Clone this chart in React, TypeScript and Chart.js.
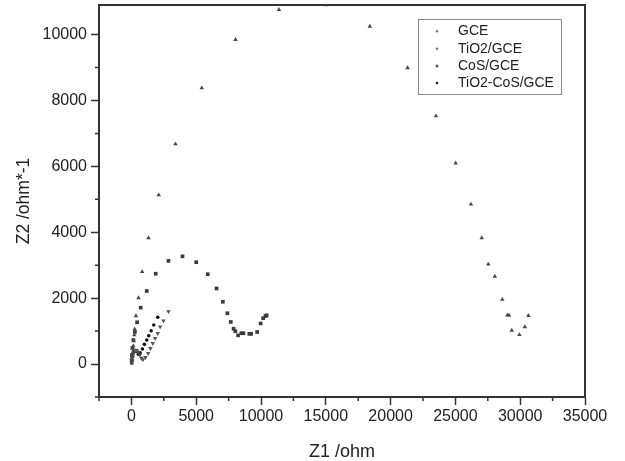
import React, { useEffect, useRef } from 'react';
import { Chart, registerables } from 'chart.js';

Chart.register(...registerables);

// ---------- data ----------
const seriesLabels = ['GCE', 'TiO2/GCE', 'CoS/GCE', 'TiO2-CoS/GCE'];

const gceZ1 = [20, 50, 100, 130, 150, 180, 220, 250, 350, 550, 830, 1320, 2110, 3400, 5430, 8040, 11380, 15000, 18400, 21310, 23500, 25020, 26200, 27030, 27540, 28040, 28620, 29010, 29140, 29350, 29940, 30360, 30630];
const gceZ2 = [30, 120, 243, 365, 550, 700, 880, 1060, 1460, 2010, 2800, 3830, 5130, 6680, 8380, 9850, 10760, 10900, 10250, 8990, 7530, 6100, 4850, 3830, 3030, 2660, 1960, 1480, 1480, 1020, 890, 1130, 1470];

const tio2Z1 = [30, 50, 110, 190, 310, 425, 540, 655, 775, 890, 1082, 1291, 1469, 1647, 1832, 2033, 2219, 2474, 2860];
const tio2Z2 = [60, 180, 270, 365, 425, 410, 365, 275, 180, 135, 204, 325, 477, 629, 781, 933, 1134, 1316, 1596];

const cosZ1 = [20, 40, 77, 155, 270, 441, 719, 1183, 1878, 2860, 3942, 5001, 5890, 6571, 7058, 7405, 7668, 7885, 8016, 8232, 8487, 8642, 9098, 9237, 9701, 9972, 10165, 10343, 10436];
const cosZ2 = [120, 270, 486, 730, 973, 1268, 1712, 2219, 2742, 3131, 3270, 3092, 2727, 2295, 1891, 1541, 1277, 1073, 997, 872, 936, 936, 918, 918, 973, 1231, 1392, 1459, 1480];

const tcZ1 = [30, 40, 77, 116, 170, 270, 386, 541, 672, 850, 1005, 1183, 1337, 1523, 1724, 2033];
const tcZ2 = [30, 120, 213, 304, 380, 410, 380, 295, 344, 456, 599, 730, 860, 1012, 1186, 1420];

const xMajorTicks = [0, 5000, 10000, 15000, 20000, 25000, 30000, 35000];
const xMinorTicks = [-2500, 2500, 7500, 12500, 17500, 22500, 27500, 32500];
const yMajorTicks = [0, 2000, 4000, 6000, 8000, 10000];
const yMinorTicks = [-1000, 1000, 3000, 5000, 7000, 9000];

const FONT = '"Liberation Sans", Arial, Helvetica, sans-serif';
const AXIS_COLOR = '#333333';

const zip = (xs: number[], ys: number[]) => xs.map((x, i) => ({ x, y: ys[i] }));

const frameAndLegend = {
  id: 'frameAndLegend',
  afterDraw(chart: any) {
    const { ctx, chartArea, scales } = chart;
    const { left, right, top, bottom } = chartArea;
    ctx.save();
    // frame
    ctx.strokeStyle = AXIS_COLOR;
    ctx.lineWidth = 2;
    ctx.strokeRect(left, top, right - left, bottom - top);
    // minor ticks
    ctx.lineWidth = 1.5;
    ctx.beginPath();
    for (const v of xMinorTicks) {
      const px = scales.x.getPixelForValue(v);
      ctx.moveTo(px, bottom);
      ctx.lineTo(px, bottom + 4);
    }
    for (const v of yMinorTicks) {
      const py = scales.y.getPixelForValue(v);
      ctx.moveTo(left, py);
      ctx.lineTo(left - 4, py);
    }
    ctx.stroke();

    // legend box
    const bx = 418, by = 19, bw = 143, bh = 75;
    ctx.lineWidth = 1;
    ctx.strokeStyle = '#8a8a8a';
    ctx.strokeRect(bx + 0.5, by + 0.5, bw, bh);
    ctx.font = '14px ' + FONT;
    ctx.textBaseline = 'middle';
    ctx.textAlign = 'left';
    const rows = [31, 49, 66, 83];
    chart.data.datasets.forEach((ds: any, i: number) => {
      const cy = rows[i];
      const mx = 437;
      ctx.fillStyle = '#777';
      ctx.beginPath();
      if (i === 0) {
        ctx.moveTo(mx, cy - 1.8); ctx.lineTo(mx + 1.8, cy + 1.2); ctx.lineTo(mx - 1.8, cy + 1.2); ctx.closePath();
      } else if (i === 1) {
        ctx.moveTo(mx, cy + 1.8); ctx.lineTo(mx + 1.8, cy - 1.2); ctx.lineTo(mx - 1.8, cy - 1.2); ctx.closePath();
      } else if (i === 2) {
        ctx.fillStyle = '#555';
        ctx.rect(mx - 1.3, cy - 1.3, 2.6, 2.6);
      } else {
        ctx.fillStyle = '#222';
        ctx.arc(mx, cy, 1.3, 0, Math.PI * 2);
      }
      ctx.fill();
      ctx.fillStyle = '#222';
      ctx.fillText(ds.label, 458, cy + 0.5);
    });
    ctx.restore();
  },
};

export default function App() {
  const canvasRef = useRef<HTMLCanvasElement | null>(null);

  useEffect(() => {
    if (!canvasRef.current) return;
    const chart = new Chart(canvasRef.current, {
      type: 'scatter',
      data: {
        datasets: [
          {
            label: seriesLabels[0],
            data: zip(gceZ1, gceZ2),
            pointStyle: 'triangle',
            pointRadius: 2.6,
            backgroundColor: '#484848',
            borderWidth: 0,
          },
          {
            label: seriesLabels[1],
            data: zip(tio2Z1, tio2Z2),
            pointStyle: 'triangle',
            rotation: 180,
            pointRotation: 180,
            pointRadius: 2.6,
            backgroundColor: '#555',
            borderWidth: 0,
          } as any,
          {
            label: seriesLabels[2],
            data: zip(cosZ1, cosZ2),
            pointStyle: 'rect',
            pointRadius: 2.6,
            backgroundColor: '#3a3a3a',
            borderWidth: 0,
          },
          {
            label: seriesLabels[3],
            data: zip(tcZ1, tcZ2),
            pointStyle: 'circle',
            pointRadius: 1.8,
            backgroundColor: '#111',
            borderWidth: 0,
          },
        ],
      },
      options: {
        animation: false,
        responsive: false,
        devicePixelRatio: 1,
        layout: { autoPadding: false, padding: { left: 0, right: 40, top: 5, bottom: 0 } } as any,
        plugins: {
          legend: { display: false },
          tooltip: { enabled: false },
        },
        scales: {
          x: {
            type: 'linear',
            min: -2500,
            max: 35000,
            afterBuildTicks: (scale: any) => {
              scale.ticks = xMajorTicks.map((v) => ({ value: v }));
            },
            afterFit: (scale: any) => {
              scale.height = 64;
              scale.paddingLeft = 0;
              scale.paddingRight = 0;
            },
            grid: {
              drawOnChartArea: false,
              drawTicks: true,
              tickLength: 8,
              tickWidth: 1.5,
              tickColor: AXIS_COLOR,
              color: AXIS_COLOR,
            },
            border: { display: true, color: AXIS_COLOR, width: 2 },
            ticks: {
              padding: 2,
              color: '#222',
              font: { family: FONT, size: 16 },
              maxRotation: 0,
              autoSkip: false,
              callback: (v: any) => String(v),
            },
            title: {
              display: true,
              text: 'Z1 /ohm',
              color: '#222',
              font: { family: FONT, size: 18, lineHeight: 1 },
              padding: { top: 0, bottom: 0 },
            },
          },
          y: {
            type: 'linear',
            min: -1000,
            max: 10900,
            afterBuildTicks: (scale: any) => {
              scale.ticks = yMajorTicks.map((v) => ({ value: v }));
            },
            afterFit: (scale: any) => {
              scale.width = 99;
              scale.paddingTop = 0;
              scale.paddingBottom = 0;
            },
            grid: {
              drawOnChartArea: false,
              drawTicks: true,
              tickLength: 8,
              tickWidth: 1.5,
              tickColor: AXIS_COLOR,
              color: AXIS_COLOR,
            },
            border: { display: true, color: AXIS_COLOR, width: 2 },
            ticks: {
              padding: 4,
              color: '#222',
              font: { family: FONT, size: 16 },
              autoSkip: false,
              callback: (v: any) => String(v),
            },
            title: {
              display: true,
              text: 'Z2 /ohm*-1',
              color: '#222',
              font: { family: FONT, size: 17.5, lineHeight: 1 },
              padding: { top: 15.5, bottom: 0 },
            },
          },
        },
      },
      plugins: [frameAndLegend],
    } as any);
    return () => chart.destroy();
  }, []);

  return (
    <div style={{ position: 'fixed', left: 0, top: 0, width: 625, height: 461, background: '#fff' }}>
      <canvas ref={canvasRef} width={625} height={461} />
    </div>
  );
}
